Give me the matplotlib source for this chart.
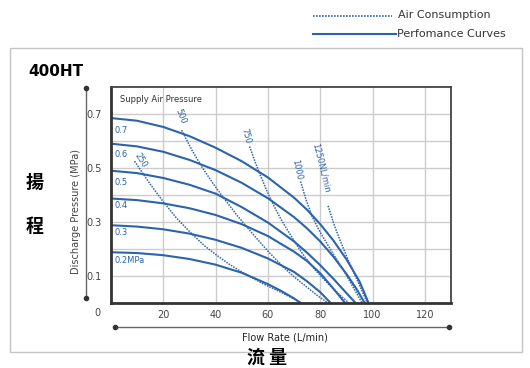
import matplotlib.pyplot as plt

# Curvas de rendimiento (presión de aire de suministro, MPa)
flow_07 = [0, 10, 20, 30, 40, 50, 60, 70, 75, 80, 85, 90, 95, 98.5]
pres_07 = [0.685, 0.675, 0.652, 0.618, 0.575, 0.525, 0.465, 0.39, 0.345, 0.292, 0.232, 0.162, 0.08, 0]
flow_06 = [0, 10, 20, 30, 40, 50, 60, 70, 75, 80, 85, 90, 94, 97]
pres_06 = [0.59, 0.58, 0.56, 0.53, 0.492, 0.445, 0.388, 0.318, 0.276, 0.228, 0.172, 0.108, 0.05, 0]
flow_05 = [0, 10, 20, 30, 40, 50, 60, 70, 75, 80, 85, 90, 93.5]
pres_05 = [0.49, 0.481, 0.463, 0.438, 0.405, 0.355, 0.298, 0.228, 0.186, 0.14, 0.09, 0.037, 0]
flow_04 = [0, 10, 20, 30, 40, 50, 60, 70, 75, 80, 84, 87, 89.5]
pres_04 = [0.387, 0.381, 0.369, 0.351, 0.326, 0.292, 0.248, 0.19, 0.155, 0.11, 0.065, 0.03, 0]
flow_03 = [0, 10, 20, 30, 40, 50, 60, 70, 75, 80, 84]
pres_03 = [0.288, 0.283, 0.273, 0.257, 0.234, 0.204, 0.165, 0.115, 0.08, 0.04, 0]
flow_02 = [0, 10, 20, 30, 40, 50, 60, 65, 70, 72.5]
pres_02 = [0.188, 0.185, 0.177, 0.163, 0.142, 0.112, 0.07, 0.045, 0.017, 0]

# Consumo de aire (NL/min)
flow_250 = [9, 15, 20, 25, 31, 36, 40, 45, 50, 58, 66, 73]
pres_250 = [0.525, 0.44, 0.375, 0.315, 0.255, 0.21, 0.18, 0.145, 0.115, 0.072, 0.035, 0]
flow_500 = [27, 31, 35, 39, 43, 48, 54, 60, 66, 70, 75, 79, 83]
pres_500 = [0.64, 0.565, 0.5, 0.443, 0.39, 0.327, 0.258, 0.192, 0.132, 0.097, 0.058, 0.027, 0]
flow_750 = [53, 55, 57, 59.5, 62, 65, 68, 71, 74, 78.5, 83, 87, 91]
pres_750 = [0.58, 0.525, 0.475, 0.418, 0.365, 0.31, 0.262, 0.215, 0.172, 0.118, 0.072, 0.034, 0]
flow_1000 = [72.5, 74.5, 77, 80, 83, 86, 89, 92.5, 96]
pres_1000 = [0.45, 0.385, 0.318, 0.262, 0.213, 0.166, 0.12, 0.06, 0]
flow_1250 = [83, 85.5, 88, 90.5, 93, 95.5, 98]
pres_1250 = [0.36, 0.285, 0.222, 0.163, 0.11, 0.055, 0]

curvas = [(flow_07, pres_07, "0.7", 0.64), (flow_06, pres_06, "0.6", 0.55),
          (flow_05, pres_05, "0.5", 0.445), (flow_04, pres_04, "0.4", 0.36),
          (flow_03, pres_03, "0.3", 0.262), (flow_02, pres_02, "0.2MPa", 0.158)]
consumo = [(flow_250, pres_250, "250", 11.5, 0.53, -58),
           (flow_500, pres_500, "500", 26.5, 0.69, -68),
           (flow_750, pres_750, "750", 51.5, 0.62, -75),
           (flow_1000, pres_1000, "1000", 71, 0.495, -78),
           (flow_1250, pres_1250, "1250NL/min", 80.5, 0.5, -76)]

azul = "#2b64ad"
gris = "#444444"
punteado = (0, (1, 0.8))

fig = plt.figure(figsize=(5.3, 3.68), dpi=100)

# capa de fondo en coordenadas de píxel
bg = fig.add_axes([0, 0, 1, 1], zorder=0)
bg.set_xlim(0, 530)
bg.set_ylim(368, 0)
bg.axis("off")
bg.add_patch(plt.Rectangle((10, 48), 512, 304, fill=False, ec="#c4c4c4", lw=1))
bg.plot([313, 392], [16, 16], ls=punteado, color=azul, lw=1.2)
bg.text(398, 15.5, "Air Consumption", fontsize=8, color="#333333", va="center")
bg.plot([313, 396], [34, 34], color=azul, lw=1.5)
bg.text(397, 34, "Perfomance Curves", fontsize=8, color="#333333", va="center")
bg.text(28, 72, "400HT", fontsize=11, fontweight="bold", va="center")
bg.plot([86, 86], [88, 298], color="#666666", lw=1)
bg.plot([86, 86], [88, 298], "o", color="#333333", ms=3)
bg.plot([115, 449], [327, 327], color="#666666", lw=1)
bg.plot([115, 449], [327, 327], "o", color="#333333", ms=3)
bg.text(76, 212, "Discharge Pressure (MPa)", rotation=90, fontsize=7, color=gris,
        ha="center", va="center")
bg.text(285, 337, "Flow Rate (L/min)", fontsize=7, color="#222222", ha="center", va="center")
bg.text(97, 313, "0", fontsize=7, color=gris, ha="center", va="center")
cjk = ["Noto Sans CJK TC", "DejaVu Sans"]
bg.text(35, 183, "揚", fontsize=13, family=cjk, fontweight="bold", ha="center", va="center")
bg.text(35, 227, "程", fontsize=13, family=cjk, fontweight="bold", ha="center", va="center")
bg.text(267, 357, "流 量", fontsize=13, family=cjk, fontweight="bold", ha="center", va="center")

ax = fig.add_axes([111 / 530, 1 - 303 / 368, 340 / 530, 216 / 368], zorder=1)
ax.set_xlim(0, 130)
ax.set_ylim(0, 0.8)
ax.set_xticks([20, 40, 60, 80, 100, 120])
ax.set_yticks([0.1, 0.2, 0.3, 0.4, 0.5, 0.6, 0.7])
ax.set_yticklabels(["0.1", "", "0.3", "", "0.5", "", "0.7"])
ax.tick_params(length=0, labelsize=7, labelcolor=gris)
ax.tick_params(axis="y", pad=7)
ax.tick_params(axis="x", pad=5)
ax.grid(True, color="#cccccc", lw=1)
ax.set_axisbelow(True)
for lado in ["left", "bottom"]:
    ax.spines[lado].set_linewidth(2)
    ax.spines[lado].set_color("#333333")
for lado in ["top", "right"]:
    ax.spines[lado].set_linewidth(1.3)
    ax.spines[lado].set_color("#444444")

for fx, py, etiq, ly in curvas:
    ax.plot(fx, py, color=azul, lw=1.5, solid_joinstyle="round")
    ax.text(1.5, ly, etiq, fontsize=6, color=azul, va="center")

for fx, py, etiq, tx, ty, rot in consumo:
    ax.plot(fx, py, color=azul, lw=1.1, ls=punteado)
    ax.text(tx, ty, etiq, fontsize=6, color=azul, rotation=rot,
            ha="center", va="center", rotation_mode="anchor")

ax.text(3.5, 0.755, "Supply Air Pressure", fontsize=6, color="#333333", va="center")

fig.savefig("out.png", dpi=100)
